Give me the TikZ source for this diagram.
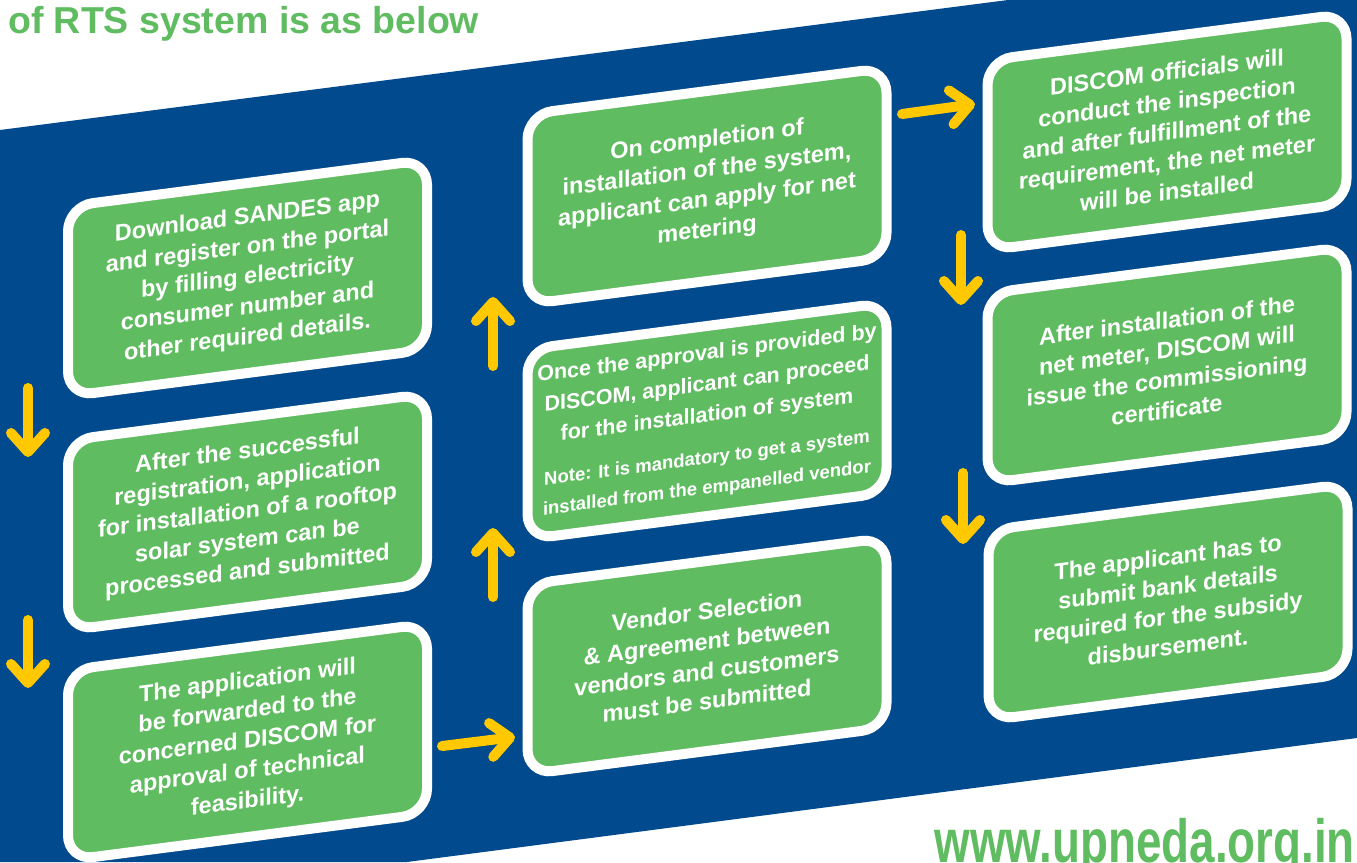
\documentclass[tikz,border=0pt]{standalone}
\usepackage{fontspec}
\setmainfont{Liberation Sans}
\usetikzlibrary{arrows.meta,
	calc}
\definecolor{bandblue}{HTML}{004A8D}
\definecolor{boxgreen}{HTML}{60BC60}
\definecolor{arrowyellow}{HTML}{FFC800}

\begin{document}
\begin{tikzpicture}[x=1pt,y=-1pt]
    \tikzstyle{stepbox}=[draw=white,line width=10pt,fill=boxgreen,rounded corners=25pt,
      minimum width=359pt,minimum height=190pt,inner sep=0pt,text width=352pt,align=flush center,
      text=white,font=\fontsize{23.5}{30}\selectfont\bfseries,yslant=0.13]
    \tikzstyle{flowarrow}=[draw=arrowyellow,line width=10pt,line cap=round,
      -{Straight Barb[length=19pt,width=34pt,round]}]
    \useasboundingbox (0,0) rectangle (1357,862);
    \fill[bandblue] (0,130) -- (1008,0) -- (1357,0) -- (1357,738) -- (407,862) -- (0,862) -- cycle;
    \node[anchor=base west,inner sep=0pt,text=boxgreen,font=\fontsize{37.5}{45}\selectfont\bfseries] (title) at (8,33) {of RTS system is as below};
    \node[anchor=base east,inner sep=0pt,text=boxgreen,font=\fontsize{61}{70}\selectfont\bfseries,xscale=0.75] (url) at (1355,862) {www.upneda.org.in};
    \node[stepbox] (b_1) at (247.5,278) {Download SANDES app\\ and register on the portal\\ by filling electricity\\ consumer number and\\ other required details.};
    \node[stepbox] (b_2) at (247.5,512) {After the successful\\ registration, application\\ for installation of a rooftop\\ solar system can be\\ processed and submitted};
    \node[stepbox] (b_3) at (247.5,742) {The application will\\ be forwarded to the\\ concerned DISCOM for\\ approval of technical\\ feasibility.};
    \node[stepbox] (b_4) at (707,186) {On completion of\\ installation of the system,\\ applicant can apply for net\\ metering};
    \node[stepbox] (b_5) at (707,421) {\fontsize{21.5}{27}\selectfont Once the approval is provided by\\[4pt] DISCOM, applicant can proceed\\[4pt] for the installation of system\\[15pt]
      \fontsize{18.5}{27}\selectfont Note: It is mandatory to get a system\\ installed from the empanelled vendor};
    \node[stepbox] (b_6) at (707,656) {Vendor Selection\\ \& Agreement between\\ vendors and customers\\ must be submitted};
    \node[stepbox] (b_7) at (1167,132) {DISCOM officials will\\ conduct the inspection\\ and after fulfillment of the\\ requirement, the net meter\\ will be installed};
    \node[stepbox] (b_8) at (1167,365) {After installation of the\\ net meter, DISCOM will\\ issue the commissioning\\ certificate};
    \node[stepbox] (b_9) at (1168,602) {The applicant has to\\ submit bank details\\ required for the subsidy\\ disbursement.};
    \draw[flowarrow] ($(b_1.south west)+(-35,-14)$) -- ($(b_2.north west)+(-35,21)$);
    \draw[flowarrow] ($(b_2.south west)+(-35,-16)$) -- ($(b_3.north west)+(-35,22)$);
    \draw[flowarrow] ($(b_3.east)+(10,28)$) -- ($(b_6.west)+(-7.5,57)$);
    \draw[flowarrow] ($(b_6.north west)+(-29.5,17)$) -- ($(b_5.south west)+(-29.5,-17)$);
    \draw[flowarrow] ($(b_5.north west)+(-29.5,21)$) -- ($(b_4.south west)+(-29.5,-13)$);
    \draw[flowarrow] ($(b_4.east)+(10.5,-48)$) -- ($(b_7.west)+(-7.5,-52)$);
    \draw[flowarrow] ($(b_7.south west)+(-21.5,-21)$) -- ($(b_8.north west)+(-21.5,16)$);
    \draw[flowarrow] ($(b_8.south west)+(-19.5,-16)$) -- ($(b_9.north west)+(-20.5,18)$);
\end{tikzpicture}
\end{document}
